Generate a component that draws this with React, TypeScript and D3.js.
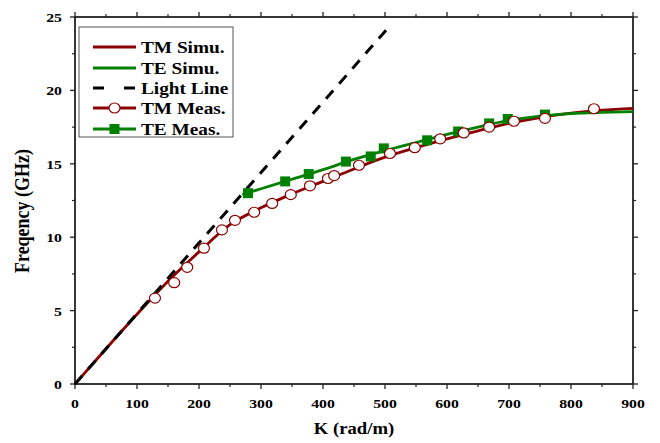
import React from "react";
import * as d3 from "d3";

const xTicks = [0, 100, 200, 300, 400, 500, 600, 700, 800, 900];
const yTicks = [0, 5, 10, 15, 20, 25];

const tmSimuK = [0, 50, 100, 150, 200, 250, 300, 350, 400, 450, 500, 550, 600, 650, 700, 750, 800, 850, 900];
const tmSimuF = [0, 2.4, 4.75, 7.0, 9.0, 10.85, 12.0, 12.95, 13.8, 14.65, 15.45, 16.1, 16.7, 17.25, 17.75, 18.15, 18.45, 18.65, 18.78];

const teSimuK = [270, 300, 350, 400, 450, 500, 550, 600, 650, 700, 750, 800, 850, 900];
const teSimuF = [12.9, 13.3, 13.95, 14.6, 15.3, 15.9, 16.45, 17.0, 17.5, 17.95, 18.25, 18.42, 18.5, 18.55];

const lightK = [0, 505];
const lightF = [0, 24.25];

const tmMeasK = [129, 160, 181, 208, 237, 258, 289, 318, 348, 379, 408, 418, 458, 508, 548, 589, 627, 668, 708, 758, 837];
const tmMeasF = [5.85, 6.9, 7.95, 9.25, 10.5, 11.15, 11.7, 12.3, 12.9, 13.5, 14.0, 14.2, 14.9, 15.7, 16.1, 16.7, 17.1, 17.5, 17.9, 18.1, 18.75];

const teMeasK = [279, 339, 377, 437, 477, 498, 568, 618, 668, 698, 758];
const teMeasF = [13.0, 13.8, 14.3, 15.15, 15.5, 16.05, 16.6, 17.2, 17.75, 18.05, 18.35];

const legendLabels = ["TM Simu.", "TE Simu.", "Light Line", "TM Meas.", "TE Meas."];

const TM = "#8b0000";
const TE = "#008000";
const FONT = "Liberation Serif, serif";
const tStyle = { fontFamily: FONT, fontWeight: 700 } as const;
const SX = 1.17;

export default function App() {
  const W = 660, H = 443;
  const L = 75, R = 633, T = 17, B = 384;
  const x = d3.scaleLinear().domain([0, 900]).range([L, R]);
  const y = d3.scaleLinear().domain([0, 25]).range([B, T]);
  const zip = (ks: number[], fs: number[]) => ks.map((k, i) => [k, fs[i]] as [number, number]);
  const curve = d3.line<[number, number]>().x(d => x(d[0])).y(d => y(d[1])).curve(d3.curveMonotoneX);
  const straight = d3.line<[number, number]>().x(d => x(d[0])).y(d => y(d[1]));

  const xMinor = d3.range(50, 900, 100);
  const yMinor = d3.range(2.5, 25, 5);

  const legendRows = [T + 30, T + 51, T + 71, T + 91, T + 112];
  const lx0 = 93, lx1 = 136;

  const Txt = (p: { x: number; y: number; size: number; anchor?: string; children: React.ReactNode }) => (
    <text transform={`translate(${p.x},${p.y}) scale(${SX},1)`} textAnchor={p.anchor || "start"} fontSize={p.size} style={tStyle}>{p.children}</text>
  );

  return (
    <svg width={W} height={H} style={{ position: "absolute", left: 0, top: 0 }}>
      <rect width={W} height={H} fill="#fff" />
      {/* frame */}
      <rect x={L} y={T} width={R - L} height={B - T} fill="none" stroke="#222" strokeWidth={1.8} />
      {xTicks.map(t => (
        <g key={"xt" + t}>
          <line x1={x(t)} x2={x(t)} y1={B} y2={B + 5} stroke="#222" strokeWidth={1.3} />
          <line x1={x(t)} x2={x(t)} y1={T} y2={T - 5} stroke="#222" strokeWidth={1.3} />
          <Txt x={x(t)} y={408} size={13.5} anchor="middle">{t}</Txt>
        </g>
      ))}
      {xMinor.map(t => (
        <g key={"xm" + t}>
          <line x1={x(t)} x2={x(t)} y1={B} y2={B + 3} stroke="#222" strokeWidth={1.2} />
          <line x1={x(t)} x2={x(t)} y1={T} y2={T - 3} stroke="#222" strokeWidth={1.2} />
        </g>
      ))}
      {yTicks.map(t => (
        <g key={"yt" + t}>
          <line x1={L} x2={L - 5} y1={y(t)} y2={y(t)} stroke="#222" strokeWidth={1.3} />
          <line x1={R} x2={R + 5} y1={y(t)} y2={y(t)} stroke="#222" strokeWidth={1.3} />
          <Txt x={L - 13} y={y(t) + 5} size={13.5} anchor="end">{t}</Txt>
        </g>
      ))}
      {yMinor.map(t => (
        <g key={"ym" + t}>
          <line x1={L} x2={L - 3} y1={y(t)} y2={y(t)} stroke="#222" strokeWidth={1.2} />
          <line x1={R} x2={R + 3} y1={y(t)} y2={y(t)} stroke="#222" strokeWidth={1.2} />
        </g>
      ))}
      <Txt x={(L + R) / 2} y={434} size={16} anchor="middle">K (rad/m)</Txt>
      <text transform={`translate(29,211) rotate(-90) scale(1,${SX})`} textAnchor="middle" fontSize={18} style={tStyle}>Freqency (GHz)</text>

      {/* curves */}
      <path d={curve(zip(tmSimuK, tmSimuF)) || ""} fill="none" stroke={TM} strokeWidth={2.8} />
      <path d={straight(zip(lightK, lightF)) || ""} fill="none" stroke="#000" strokeWidth={3} strokeDasharray="11,9" />
      <path d={curve(zip(teSimuK, teSimuF)) || ""} fill="none" stroke={TE} strokeWidth={2.8} />
      {zip(teMeasK, teMeasF).map((d, i) => (
        <rect key={"te" + i} x={x(d[0]) - 5} y={y(d[1]) - 5} width={10} height={10} fill={TE} />
      ))}
      {zip(tmMeasK, tmMeasF).map((d, i) => (
        <ellipse key={"tm" + i} cx={x(d[0])} cy={y(d[1])} rx={5.5} ry={5} fill="#fff" stroke={TM} strokeWidth={1.2} />
      ))}

      {/* legend */}
      <rect x={79} y={T + 10} width={154} height={110} fill="#fff" stroke="#555" strokeWidth={1} />
      <line x1={lx0} x2={lx1} y1={legendRows[0]} y2={legendRows[0]} stroke={TM} strokeWidth={2.8} />
      <line x1={lx0} x2={lx1} y1={legendRows[1]} y2={legendRows[1]} stroke={TE} strokeWidth={2.8} />
      <line x1={lx0} x2={lx1} y1={legendRows[2]} y2={legendRows[2]} stroke="#000" strokeWidth={3} strokeDasharray="11,20" />
      <line x1={lx0} x2={lx1} y1={legendRows[3]} y2={legendRows[3]} stroke={TM} strokeWidth={2.8} />
      <ellipse cx={(lx0 + lx1) / 2} cy={legendRows[3]} rx={5.5} ry={5} fill="#fff" stroke={TM} strokeWidth={1.2} />
      <line x1={lx0} x2={lx1} y1={legendRows[4]} y2={legendRows[4]} stroke={TE} strokeWidth={2.8} />
      <rect x={(lx0 + lx1) / 2 - 5} y={legendRows[4] - 5} width={10} height={10} fill={TE} />
      {legendLabels.map((s, i) => (
        <Txt key={s} x={141} y={legendRows[i] + 5.5} size={16.5}>{s}</Txt>
      ))}
    </svg>
  );
}
